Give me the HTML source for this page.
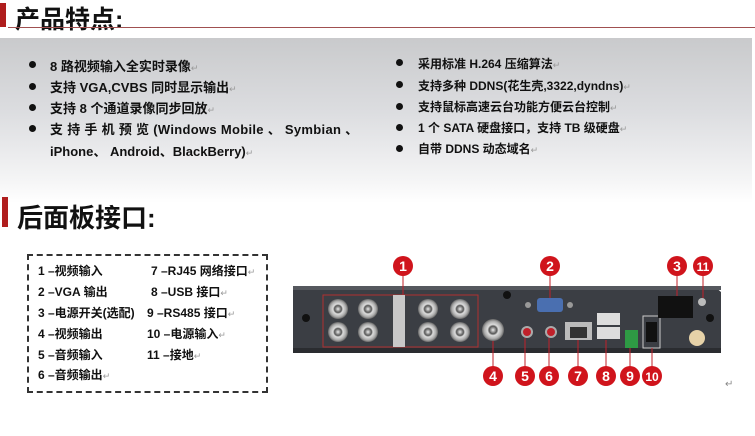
<!DOCTYPE html>
<html><head><meta charset="utf-8"><style>
body{margin:0;width:755px;height:436px;background:#fff;position:relative;overflow:hidden;font-family:"Liberation Sans","Noto Sans CJK SC",sans-serif;}
.abs{position:absolute;}
.h{font-weight:bold;color:#111;white-space:nowrap;}
.bar{background:#b01e1e;}
.panel{left:0;top:38px;width:752px;height:165px;background:linear-gradient(to bottom,#c9cacc 0%,#dcdde0 45%,#f4f4f5 85%,#fff 100%);}
.li{font-size:12px;font-weight:bold;color:#111;white-space:nowrap;}
.l{font-size:13px;}
.dot{width:7px;height:7px;border-radius:50%;background:#111;}
.lg{font-size:12px;font-weight:bold;color:#111;white-space:nowrap;}
.m{color:#999;font-weight:normal;font-size:9px}
</style></head><body>
<div class="abs bar" style="left:0;top:3px;width:6px;height:24px"></div>
<div class="abs h" style="left:15px;top:0px;font-size:25px">产品特点:</div>
<div class="abs" style="left:8px;top:27px;width:747px;height:1px;background:#a05050"></div>
<div class="abs panel"></div>

<div class="abs dot" style="left:29px;top:61px"></div><div class="abs li l" style="left:50px;top:56px">8 路视频输入全实时录像<span class="m">↵</span></div>
<div class="abs dot" style="left:29px;top:83px"></div><div class="abs li l" style="left:50px;top:77px">支持 VGA,CVBS 同时显示输出<span class="m">↵</span></div>
<div class="abs dot" style="left:29px;top:104px"></div><div class="abs li l" style="left:50px;top:98px">支持 8 个通道录像同步回放<span class="m">↵</span></div>
<div class="abs dot" style="left:29px;top:125px"></div><div class="abs li l" style="left:50px;top:119px;letter-spacing:0.3px">支 持 手 机 预 览 (Windows Mobile 、 Symbian 、</div>
<div class="abs li l" style="left:50px;top:141px">iPhone、 Android、BlackBerry)<span class="m">↵</span></div>

<div class="abs dot" style="left:396px;top:59px"></div><div class="abs li" style="left:418px;top:55px">采用标准 H.264 压缩算法<span class="m">↵</span></div>
<div class="abs dot" style="left:396px;top:81px"></div><div class="abs li" style="left:418px;top:77px">支持多种 DDNS(花生壳,3322,dyndns)<span class="m">↵</span></div>
<div class="abs dot" style="left:396px;top:103px"></div><div class="abs li" style="left:418px;top:98px">支持鼠标高速云台功能方便云台控制<span class="m">↵</span></div>
<div class="abs dot" style="left:396px;top:124px"></div><div class="abs li" style="left:418px;top:119px">1 个 SATA 硬盘接口，支持 TB 级硬盘<span class="m">↵</span></div>
<div class="abs dot" style="left:396px;top:145px"></div><div class="abs li" style="left:418px;top:140px">自带 DDNS 动态域名<span class="m">↵</span></div>

<div class="abs bar" style="left:2px;top:197px;width:6px;height:30px"></div>
<div class="abs h" style="left:17px;top:198px;font-size:26px">后面板接口:</div>

<div class="abs" style="left:27px;top:254px;width:237px;height:135px;border:2px dashed #333"></div>
<div class="abs lg" style="left:38px;top:262px">1 –视频输入</div>
<div class="abs lg" style="left:38px;top:283px">2 –VGA 输出</div>
<div class="abs lg" style="left:38px;top:304px">3 –电源开关(选配)</div>
<div class="abs lg" style="left:38px;top:325px">4 –视频输出</div>
<div class="abs lg" style="left:38px;top:346px">5 –音频输入</div>
<div class="abs lg" style="left:38px;top:366px">6 –音频输出<span class="m">↵</span></div>
<div class="abs lg" style="left:151px;top:262px">7 –RJ45 网络接口<span class="m">↵</span></div>
<div class="abs lg" style="left:151px;top:283px">8 –USB 接口<span class="m">↵</span></div>
<div class="abs lg" style="left:147px;top:304px">9 –RS485 接口<span class="m">↵</span></div>
<div class="abs lg" style="left:147px;top:325px">10 –电源输入<span class="m">↵</span></div>
<div class="abs lg" style="left:147px;top:346px">11 –接地<span class="m">↵</span></div>

<svg class="abs" style="left:0;top:0" width="755" height="436">
<defs>
<radialGradient id="bnc"><stop offset="0" stop-color="#eee"/><stop offset="0.35" stop-color="#555"/><stop offset="0.5" stop-color="#ddd"/><stop offset="0.8" stop-color="#aaa"/><stop offset="1" stop-color="#666"/></radialGradient>
</defs>
<path d="M293 290 L300 286 L714 286 L721 292 L721 353 L293 353 Z" fill="#3b3e44"/>
<rect x="293" y="286" width="428" height="4" fill="#55585e"/>
<rect x="293" y="348" width="428" height="5" fill="#2a2c30"/>
<circle cx="306" cy="318" r="4" fill="#111"/><circle cx="710" cy="318" r="4" fill="#111"/>
<circle cx="507" cy="295" r="4" fill="#111"/>
<rect x="323" y="295" width="155" height="52" fill="none" stroke="#b03030" stroke-width="1"/>
<rect x="393" y="295" width="12" height="52" fill="#c8c8c8"/>
<g fill="url(#bnc)">
<circle cx="338" cy="309" r="10"/><circle cx="368" cy="309" r="10"/><circle cx="338" cy="332" r="10"/><circle cx="368" cy="332" r="10"/>
<circle cx="428" cy="309" r="10"/><circle cx="460" cy="309" r="10"/><circle cx="428" cy="332" r="10"/><circle cx="460" cy="332" r="10"/>
<circle cx="493" cy="330" r="11"/>
</g>
<circle cx="527" cy="332" r="6" fill="#aaa"/><circle cx="527" cy="332" r="4" fill="#c0202a"/>
<circle cx="551" cy="332" r="6" fill="#aaa"/><circle cx="551" cy="332" r="4" fill="#c0202a"/>
<rect x="537" y="298" width="26" height="14" rx="3" fill="#4a6fb0"/>
<circle cx="528" cy="305" r="3" fill="#999"/><circle cx="570" cy="305" r="3" fill="#999"/>
<rect x="565" y="322" width="27" height="18" fill="#bbb"/><rect x="570" y="327" width="17" height="11" fill="#333"/>
<rect x="597" y="313" width="23" height="12" fill="#ddd"/><rect x="597" y="327" width="23" height="12" fill="#ddd"/>
<rect x="625" y="330" width="13" height="18" fill="#2e9a44"/>
<rect x="643" y="316" width="17" height="32" fill="none" stroke="#ccc"/><rect x="646" y="322" width="11" height="20" fill="#111"/>
<rect x="658" y="296" width="35" height="22" fill="#111"/>
<circle cx="697" cy="338" r="8" fill="#e6d2a8"/>
<circle cx="702" cy="302" r="4" fill="#bbb"/>
<g stroke="#c0202a" stroke-width="1"><line x1="403" y1="270" x2="403" y2="295"/><line x1="550" y1="270" x2="550" y2="298"/><line x1="677" y1="270" x2="677" y2="296"/><line x1="703" y1="270" x2="703" y2="298"/>
<line x1="493" y1="341" x2="493" y2="372"/><line x1="525" y1="338" x2="525" y2="372"/><line x1="549" y1="338" x2="549" y2="372"/><line x1="578" y1="340" x2="578" y2="372"/><line x1="606" y1="340" x2="606" y2="372"/><line x1="630" y1="348" x2="630" y2="372"/><line x1="652" y1="348" x2="652" y2="372"/></g>
<g fill="#d0141c"><circle cx="403" cy="266" r="10"/><circle cx="550" cy="266" r="10"/><circle cx="677" cy="266" r="10"/><circle cx="703" cy="266" r="10"/>
<circle cx="493" cy="376" r="10"/><circle cx="525" cy="376" r="10"/><circle cx="549" cy="376" r="10"/><circle cx="578" cy="376" r="10"/><circle cx="606" cy="376" r="10"/><circle cx="630" cy="376" r="10"/><circle cx="652" cy="376" r="10"/></g>
<g fill="#fff" font-family="Liberation Sans" font-weight="bold" font-size="14" text-anchor="middle">
<text x="403" y="271">1</text><text x="550" y="271">2</text><text x="677" y="271">3</text><text x="703" y="271" font-size="12">11</text>
<text x="493" y="381">4</text><text x="525" y="381">5</text><text x="549" y="381">6</text><text x="578" y="381">7</text><text x="606" y="381">8</text><text x="630" y="381">9</text><text x="652" y="381" font-size="12">10</text></g>
<text x="725" y="387" font-size="10" fill="#888">↵</text>
</svg>
</body></html>
